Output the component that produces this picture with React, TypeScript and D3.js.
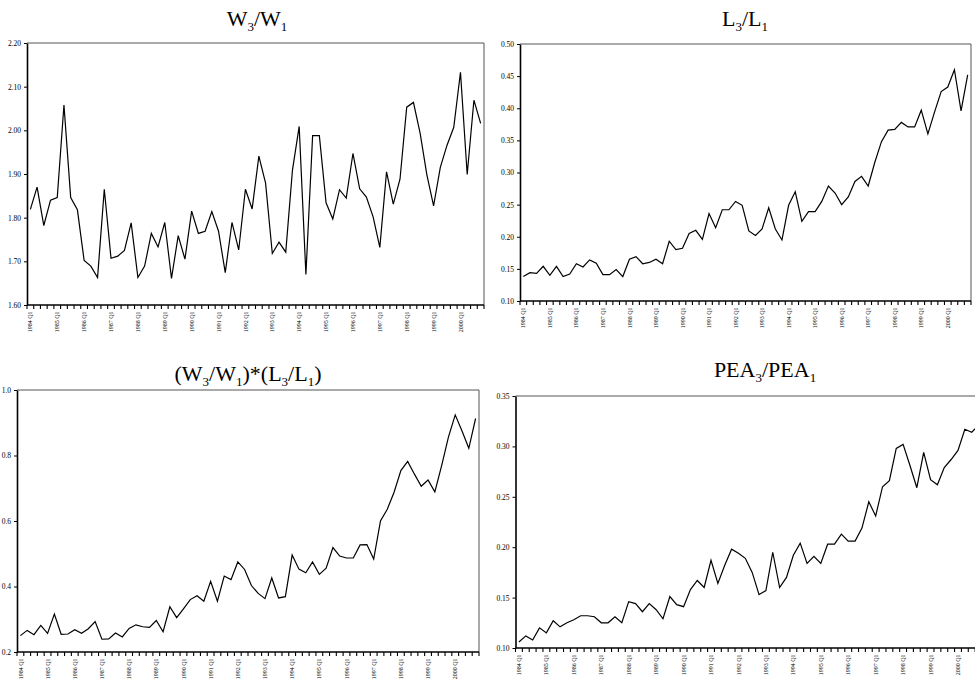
import React, { useEffect, useRef } from 'react';
import * as d3 from 'd3';

const years = [1984, 1985, 1986, 1987, 1988, 1989, 1990, 1991, 1992, 1993, 1994, 1995, 1996, 1997, 1998, 1999, 2000];
const quarterNames = ['Q1', 'Q2', 'Q3', 'Q4'];
const quarters = years.flatMap((y) => quarterNames.map((q) => `${y} ${q}`));

const w3w1 = [
  1.819, 1.870, 1.782, 1.840, 1.846, 2.058, 1.846, 1.818, 1.702, 1.689,
  1.663, 1.865, 1.707, 1.712, 1.725, 1.788, 1.663, 1.689, 1.764, 1.733,
  1.789, 1.661, 1.759, 1.705, 1.815, 1.764, 1.769, 1.814, 1.769, 1.674,
  1.789, 1.726, 1.865, 1.820, 1.941, 1.879, 1.718, 1.744, 1.721, 1.909,
  2.009, 1.670, 1.988, 1.988, 1.834, 1.797, 1.864, 1.845, 1.947, 1.866,
  1.847, 1.802, 1.732, 1.905, 1.831, 1.888, 2.053, 2.064, 1.993, 1.898,
  1.827, 1.915, 1.966, 2.007, 2.133, 1.899, 2.069, 2.016,
];

const l3l1 = [
  0.138, 0.144, 0.143, 0.154, 0.140, 0.154, 0.138, 0.142, 0.158, 0.153,
  0.164, 0.159, 0.141, 0.141, 0.149, 0.138, 0.165, 0.169, 0.158, 0.160,
  0.165, 0.158, 0.193, 0.180, 0.182, 0.205, 0.210, 0.196, 0.236, 0.214,
  0.242, 0.242, 0.255, 0.249, 0.209, 0.202, 0.212, 0.245, 0.212, 0.195,
  0.249, 0.270, 0.224, 0.239, 0.239, 0.255, 0.279, 0.268, 0.250, 0.262,
  0.286, 0.294, 0.279, 0.316, 0.348, 0.366, 0.367, 0.378, 0.371, 0.371,
  0.397, 0.360, 0.394, 0.426, 0.433, 0.460, 0.396, 0.452,
];

const wl = [
  0.250, 0.266, 0.253, 0.281, 0.257, 0.316, 0.254, 0.255, 0.268, 0.257,
  0.271, 0.293, 0.239, 0.240, 0.258, 0.246, 0.272, 0.283, 0.277, 0.275,
  0.296, 0.262, 0.338, 0.305, 0.332, 0.360, 0.372, 0.355, 0.416, 0.355,
  0.432, 0.421, 0.475, 0.452, 0.403, 0.379, 0.363, 0.426, 0.365, 0.369,
  0.496, 0.453, 0.442, 0.475, 0.437, 0.456, 0.519, 0.493, 0.487, 0.487,
  0.527, 0.528, 0.484, 0.600, 0.636, 0.688, 0.754, 0.782, 0.743, 0.706,
  0.725, 0.689, 0.769, 0.856, 0.924, 0.875, 0.822, 0.913,
];

const pea = [
  0.106, 0.112, 0.108, 0.120, 0.115, 0.127, 0.121, 0.125, 0.128, 0.132,
  0.132, 0.131, 0.125, 0.125, 0.131, 0.125, 0.146, 0.144, 0.136, 0.144,
  0.138, 0.129, 0.151, 0.143, 0.141, 0.158, 0.167, 0.160, 0.187, 0.164,
  0.182, 0.198, 0.194, 0.189, 0.175, 0.153, 0.157, 0.195, 0.160, 0.170,
  0.192, 0.204, 0.184, 0.191, 0.184, 0.203, 0.203, 0.213, 0.206, 0.206,
  0.219, 0.245, 0.231, 0.260, 0.266, 0.298, 0.302, 0.281, 0.259, 0.294,
  0.267, 0.262, 0.279, 0.287, 0.296, 0.317, 0.314, 0.321,
];

const w3w1Ticks = [1.6, 1.7, 1.8, 1.9, 2.0, 2.1, 2.2];
const l3l1Ticks = [0.1, 0.15, 0.2, 0.25, 0.3, 0.35, 0.4, 0.45, 0.5];
const wlTicks = [0.2, 0.4, 0.6, 0.8, 1.0];
const peaTicks = [0.1, 0.15, 0.2, 0.25, 0.3, 0.35];

const FONT = '"Liberation Serif", "Times New Roman", serif';

type Box = { left: number; right: number; top: number; bottom: number };

function LinePanel({ values, ticks, fmt, box }: { values: number[]; ticks: number[]; fmt: string; box: Box }) {
  const ref = useRef<SVGGElement>(null);

  useEffect(() => {
    if (!ref.current) return;
    const g = d3.select(ref.current);
    g.selectAll('*').remove();

    const { left, right, top, bottom } = box;
    const x = d3.scaleBand().domain(quarters).range([left, right]);
    const bw = x.bandwidth();
    const y = d3.scaleLinear().domain([ticks[0], ticks[ticks.length - 1]]).range([bottom, top]);

    // thin frame on top and right
    g.append('path')
      .attr('d', `M${left},${top}H${right}V${bottom}`)
      .attr('fill', 'none')
      .attr('stroke', '#555')
      .attr('stroke-width', 1);

    // category ticks between the quarters
    const bounds = quarters.map((q) => x(q) as number).concat([right]);
    g.append('g')
      .selectAll('line')
      .data(bounds)
      .join('line')
      .attr('x1', (d) => d)
      .attr('x2', (d) => d)
      .attr('y1', bottom)
      .attr('y2', bottom + 4)
      .attr('stroke', '#000')
      .attr('stroke-width', 1.1);

    // x axis line
    g.append('line')
      .attr('x1', left)
      .attr('x2', right)
      .attr('y1', bottom)
      .attr('y2', bottom)
      .attr('stroke', '#000')
      .attr('stroke-width', 1.6);

    // year labels at Q1
    g.append('g')
      .selectAll('text')
      .data(quarters.filter((q) => q.endsWith('Q1')))
      .join('text')
      .attr('transform', (d) => `translate(${(x(d) as number) + bw / 2},${bottom + 6.5}) rotate(-90)`)
      .attr('text-anchor', 'end')
      .attr('dy', '0.35em')
      .attr('font-family', FONT)
      .attr('font-size', 6)
      .attr('fill', '#000')
      .text((d) => d);

    // y axis
    const ya = g.append('g')
      .attr('transform', `translate(${left},0)`)
      .call(d3.axisLeft(y).tickValues(ticks).tickSizeInner(3).tickSizeOuter(0).tickPadding(3).tickFormat(d3.format(fmt) as any));
    ya.select('.domain').attr('stroke-width', 1.6);
    ya.selectAll('text').attr('font-family', FONT).attr('font-size', 7.5);

    // series
    const line = d3.line<number>()
      .x((d, i) => (x(quarters[i]) as number) + bw / 2)
      .y((d) => y(d));
    g.append('path')
      .datum(values)
      .attr('d', line)
      .attr('fill', 'none')
      .attr('stroke', '#000')
      .attr('stroke-width', 1.2)
      .attr('stroke-linejoin', 'miter');
  }, [values, ticks, fmt, box]);

  return <g ref={ref} />;
}

export default function App() {
  const big = 22;
  const small = 13;
  const sh = 5;
  return (
    <svg
      width={975}
      height={680}
      style={{ position: 'absolute', left: 0, top: 0, background: '#fff' }}
      fontFamily={FONT}
    >
      <rect width={975} height={680} fill="#fff" />
      <text x={257} y={26} textAnchor="middle" fontSize={big}>
        W<tspan fontSize={small} dy={sh}>3</tspan>
        <tspan dy={-sh}>/W</tspan>
        <tspan fontSize={small} dy={sh}>1</tspan>
      </text>
      <text x={745} y={26} textAnchor="middle" fontSize={big}>
        L<tspan fontSize={small} dy={sh}>3</tspan>
        <tspan dy={-sh}>/L</tspan>
        <tspan fontSize={small} dy={sh}>1</tspan>
      </text>
      <text x={248} y={381} textAnchor="middle" fontSize={big}>
        (W<tspan fontSize={small} dy={sh}>3</tspan>
        <tspan dy={-sh}>/W</tspan>
        <tspan fontSize={small} dy={sh}>1</tspan>
        <tspan dy={-sh}>)*(L</tspan>
        <tspan fontSize={small} dy={sh}>3</tspan>
        <tspan dy={-sh}>/L</tspan>
        <tspan fontSize={small} dy={sh}>1</tspan>
        <tspan dy={-sh}>)</tspan>
      </text>
      <text x={765} y={377} textAnchor="middle" fontSize={big}>
        PEA<tspan fontSize={small} dy={sh}>3</tspan>
        <tspan dy={-sh}>/PEA</tspan>
        <tspan fontSize={small} dy={sh}>1</tspan>
      </text>

      <LinePanel values={w3w1} ticks={w3w1Ticks} fmt=".2f" box={{ left: 27, right: 484, top: 43, bottom: 305 }} />
      <LinePanel values={l3l1} ticks={l3l1Ticks} fmt=".2f" box={{ left: 520, right: 971, top: 44, bottom: 301 }} />
      <LinePanel values={wl} ticks={wlTicks} fmt=".1f" box={{ left: 17, right: 479, top: 390, bottom: 652 }} />
      <LinePanel values={pea} ticks={peaTicks} fmt=".2f" box={{ left: 515.5, right: 982, top: 396, bottom: 648 }} />
    </svg>
  );
}
